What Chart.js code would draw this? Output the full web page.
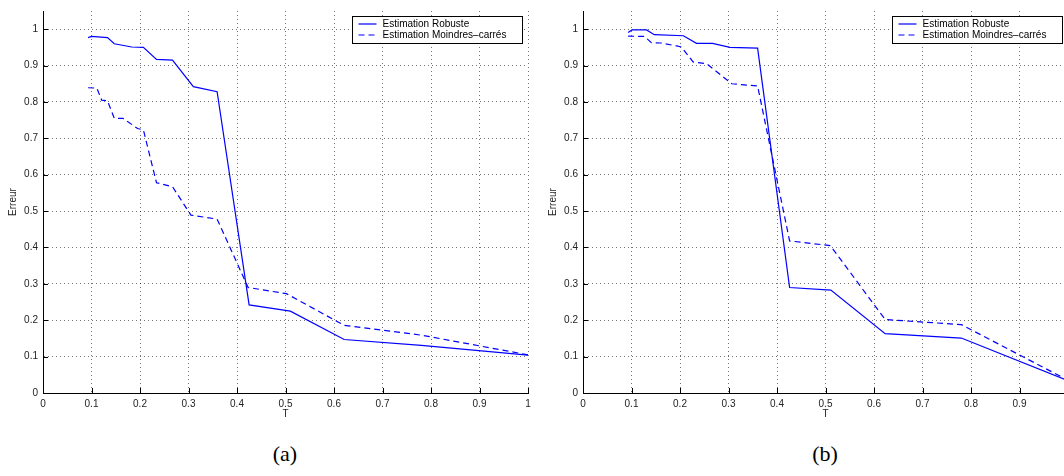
<!DOCTYPE html>
<html>
<head>
<meta charset="utf-8">
<script src="https://cdn.jsdelivr.net/npm/chart.js@4"></script>
<style>
  html, body { margin: 0; padding: 0; background: #fff; width: 1064px; height: 476px; overflow: hidden; }
  .plot { position: absolute; top: 0; width: 540px; height: 430px; }
  .tag { position: absolute; top: 441px; width: 60px; text-align: center; font-family: "Liberation Serif", serif; font-size: 22px; color: #000; }
</style>
</head>
<body>
<div class="plot" style="left:0px"><canvas id="chartA" width="540" height="430"></canvas></div>
<div class="plot" style="left:540px"><canvas id="chartB" width="540" height="430"></canvas></div>
<div class="tag" style="left:255px">(a)</div>
<div class="tag" style="left:795px">(b)</div>
<script>
const labelRobuste = "Estimation Robuste";
const labelMoindres = "Estimation Moindres–carrés";

// figure (a)
const tRobusteA = [0.093, 0.100, 0.133, 0.147, 0.183, 0.207, 0.234, 0.267, 0.310, 0.359, 0.425, 0.510, 0.621, 0.780, 1.0];
const erreurRobusteA = [0.977, 0.980, 0.977, 0.960, 0.951, 0.950, 0.917, 0.915, 0.842, 0.828, 0.242, 0.225, 0.147, 0.131, 0.104];
const tMoindresA = [0.093, 0.111, 0.121, 0.133, 0.147, 0.165, 0.195, 0.207, 0.234, 0.267, 0.305, 0.359, 0.423, 0.502, 0.621, 0.780, 1.0];
const erreurMoindresA = [0.839, 0.838, 0.805, 0.803, 0.755, 0.755, 0.727, 0.723, 0.578, 0.567, 0.489, 0.478, 0.290, 0.273, 0.186, 0.159, 0.105];

// figure (b)
const tRobusteB = [0.093, 0.101, 0.131, 0.147, 0.207, 0.234, 0.267, 0.303, 0.360, 0.426, 0.511, 0.623, 0.780, 1.0];
const erreurRobusteB = [0.991, 0.998, 0.998, 0.985, 0.982, 0.961, 0.961, 0.950, 0.948, 0.290, 0.283, 0.163, 0.151, 0.034];
const tMoindresB = [0.093, 0.127, 0.141, 0.160, 0.193, 0.203, 0.227, 0.255, 0.307, 0.360, 0.426, 0.510, 0.623, 0.780, 1.0];
const erreurMoindresB = [0.981, 0.980, 0.963, 0.962, 0.954, 0.951, 0.910, 0.905, 0.850, 0.844, 0.418, 0.405, 0.202, 0.188, 0.035];

const xTitle = "T";
const yTitle = "Erreur";

const toPoints = (xs, ys) => xs.map((x, i) => ({ x: x, y: ys[i] }));

const tickFont = { family: "Liberation Sans, Arial, sans-serif", size: 10 };

// legend drawn inside the axes, top right, like matlab
const legendBox = {
    id: 'legendBox',
    afterDraw(chart) {
        const { ctx, chartArea } = chart;
        const w = 170, h = 27;
        const x0 = Math.round(chartArea.right - 6 - w) + 0.5;
        const y0 = 16.5;
        ctx.save();
        ctx.fillStyle = '#fff';
        ctx.fillRect(x0, y0, w, h);
        ctx.strokeStyle = '#000';
        ctx.lineWidth = 1;
        ctx.setLineDash([]);
        ctx.strokeRect(x0, y0, w, h);
        ctx.font = "10px Liberation Sans, Arial, sans-serif";
        ctx.textBaseline = 'middle';
        chart.data.datasets.forEach((ds, i) => {
            const y = y0 + 7.5 + i * 11;
            ctx.strokeStyle = ds.borderColor;
            ctx.lineWidth = 1.2;
            ctx.setLineDash(ds.borderDash || []);
            ctx.beginPath();
            ctx.moveTo(x0 + 6, y);
            ctx.lineTo(x0 + 24, y);
            ctx.stroke();
            ctx.fillStyle = '#000';
            ctx.fillText(ds.label, x0 + 30, y + 0.5);
        });
        ctx.restore();
    }
};

// small ticks pointing into the plot
const innerTicks = {
    id: 'innerTicks',
    afterDatasetsDraw(chart) {
        const { ctx, chartArea, scales } = chart;
        ctx.save();
        ctx.strokeStyle = '#000';
        ctx.lineWidth = 1;
        ctx.setLineDash([]);
        ctx.beginPath();
        scales.x.ticks.forEach(t => {
            const px = Math.round(scales.x.getPixelForValue(t.value)) + 0.5;
            ctx.moveTo(px, chartArea.bottom);
            ctx.lineTo(px, chartArea.bottom - 5);
        });
        scales.y.ticks.forEach(t => {
            const py = Math.round(scales.y.getPixelForValue(t.value)) + 0.5;
            ctx.moveTo(chartArea.left, py);
            ctx.lineTo(chartArea.left + 5, py);
        });
        ctx.stroke();
        ctx.restore();
    }
};

const makeChart = (id, robuste, moindres) => {
    return new Chart(document.getElementById(id), {
        type: 'line',
        data: {
            datasets: [{
                label: labelRobuste,
                data: robuste,
                borderColor: '#0000ff',
                borderWidth: 1.2,
                pointRadius: 0,
                fill: false,
                tension: 0
            }, {
                label: labelMoindres,
                data: moindres,
                borderColor: '#0000ff',
                borderWidth: 1.2,
                borderDash: [6, 4],
                pointRadius: 0,
                fill: false,
                tension: 0
            }]
        },
        options: {
            responsive: false,
            animation: false,
            layout: { padding: { top: 11, right: 12, left: 0, bottom: 0 } },
            plugins: { legend: { display: false }, tooltip: { enabled: false } },
            scales: {
                x: {
                    type: 'linear',
                    min: 0,
                    max: 1,
                    afterFit: (scale) => { scale.height = 37; },
                    ticks: {
                        stepSize: 0.1,
                        padding: 5,
                        color: '#222',
                        font: tickFont,
                        maxRotation: 0,
                        autoSkip: false,
                        callback: (v) => String(Number(v.toFixed(1)))
                    },
                    grid: { color: 'rgba(0,0,0,0.55)', drawTicks: false, lineWidth: 1 },
                    border: { display: true, color: '#000', width: 1, dash: [1, 3] },
                    title: { display: true, text: xTitle, color: '#222', font: tickFont, padding: { top: 0, bottom: 10 } }
                },
                y: {
                    min: 0,
                    max: 1.05,
                    afterFit: (scale) => { scale.width = 43; },
                    ticks: {
                        stepSize: 0.1,
                        includeBounds: false,
                        padding: 5,
                        color: '#222',
                        font: tickFont,
                        callback: (v) => String(Number(v.toFixed(1)))
                    },
                    grid: { color: 'rgba(0,0,0,0.55)', drawTicks: false, lineWidth: 1 },
                    border: { display: true, color: '#000', width: 1, dash: [1, 3] },
                    title: { display: true, text: yTitle, color: '#222', font: tickFont, padding: { top: 7, bottom: 0 } }
                }
            }
        },
        plugins: [innerTicks, legendBox]
    });
};

makeChart('chartA', toPoints(tRobusteA, erreurRobusteA), toPoints(tMoindresA, erreurMoindresA));
makeChart('chartB', toPoints(tRobusteB, erreurRobusteB), toPoints(tMoindresB, erreurMoindresB));
</script>
</body>
</html>
